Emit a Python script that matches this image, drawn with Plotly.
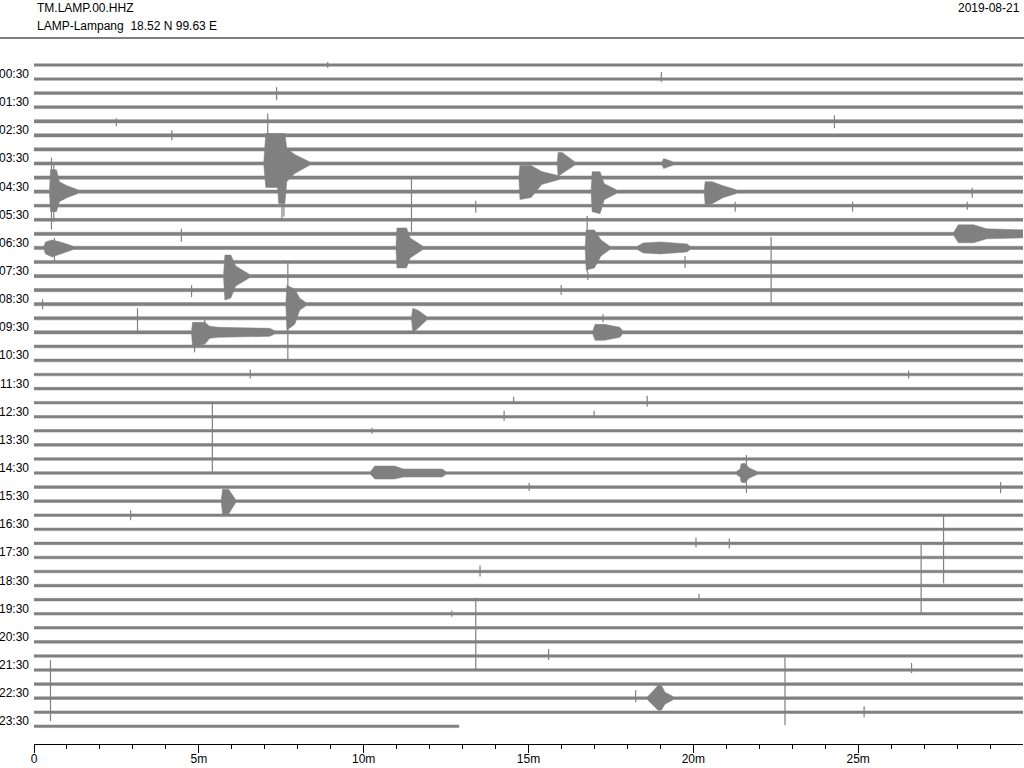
import plotly.graph_objects as go

# ---------------- data ----------------
STATION = "TM.LAMP.00.HHZ"
SITE = "LAMP-Lampang\u00a0 18.52 N 99.63 E"
DATE = "2019-08-21"

N_LINES = 48                      # 30-minute lines, 00:00 ... 23:30
LINE_MINUTES = 30
LAST_LINE_END = 12.89             # minutes recorded on the last line
HOUR_LABELS = ["00:30", "01:30", "02:30", "03:30", "04:30", "05:30", "06:30", "07:30",
               "08:30", "09:30", "10:30", "11:30", "12:30", "13:30", "14:30", "15:30",
               "16:30", "17:30", "18:30", "19:30", "20:30", "21:30", "22:30", "23:30"]
X_TICKS = [0, 5, 10, 15, 20, 25]
X_TICK_TEXT = ["0", "5m", "10m", "15m", "20m", "25m"]
X_MINOR = [1, 2, 3, 4, 6, 7, 8, 9, 11, 12, 13, 14, 16, 17, 18, 19, 21, 22, 23, 24, 26, 27, 28, 29]

GAIN = 14.07   # amplitude units per line spacing

# background noise half-amplitude per line
NOISE = [1.2, 1.2, 1.4, 1.4, 1.6, 1.6, 1.6, 1.6, 1.6, 1.6, 1.4, 1.4,
         1.6, 1.6, 1.6, 1.6, 1.6, 1.6, 1.6, 1.6, 1.4, 1.4, 1.3, 1.3,
         1.3, 1.3, 1.3, 1.3, 1.3, 1.3, 1.3, 1.3, 1.3, 1.3, 1.3, 1.3,
         1.3, 1.3, 1.3, 1.3, 1.3, 1.3, 1.3, 1.3, 1.3, 1.3, 1.3, 1.3]

# events: envelope key points (minute, amplitude above, amplitude below)
EVENT_LINE = [9, 13, 7, 15, 17, 18, 19, 13, 7, 8, 7, 9, 9, 13, 13, 12, 19, 29, 29, 31, 45]
EVENT_T = [
    [0.47, 0.50, 0.68, 0.77, 1.00, 1.35],
    [0.30, 0.35, 0.55, 0.80, 1.20],
    [6.97, 7.03, 7.39, 7.42, 7.61, 7.67, 7.91, 8.37],
    [5.75, 5.79, 5.97, 6.12, 6.54],
    [7.64, 7.67, 7.91, 8.06, 8.25],
    [11.45, 11.49, 11.65, 11.92],
    [4.78, 4.81, 5.18, 5.33, 5.60, 7.15, 7.30],
    [10.98, 11.01, 11.30, 11.41, 11.80],
    [15.87, 15.90, 16.02, 16.41],
    [14.71, 14.74, 15.08, 15.40, 15.96],
    [19.05, 19.10, 19.40],
    [16.90, 16.93, 17.17, 17.30, 17.68],
    [20.33, 20.36, 20.57, 20.90, 21.33],
    [16.72, 16.75, 17.00, 17.20, 17.47],
    [18.30, 18.48, 19.00, 19.81, 19.90],
    [27.90, 28.04, 28.50, 28.90, 30.00],
    [16.95, 17.02, 17.30, 17.77, 17.85],
    [10.20, 10.34, 10.94, 11.20, 12.38, 12.50],
    [21.30, 21.42, 21.45, 21.55, 21.70, 21.95],
    [5.68, 5.72, 5.90, 6.12],
    [18.60, 18.69, 18.93, 19.03, 19.14, 19.40],
]
EVENT_UP = [
    [0, 22, 22, 10, 6, 0],
    [0, 6, 8, 6, 0],
    [0, 30, 30, 30, 30, 15, 9, 0],
    [0, 21, 21, 10, 0],
    [0, 19, 15, 6, 0],
    [0, 10, 8, 0],
    [0, 10, 10, 6, 5, 4, 0],
    [0, 20, 20, 10, 0],
    [0, 11, 11, 0],
    [0, 12, 12, 6, 0],
    [0, 5, 0],
    [0, 20, 20, 8, 0],
    [0, 10, 10, 6, 0],
    [0, 18, 18, 8, 0],
    [0, 5, 6, 4, 0],
    [0, 9, 9, 5, 4],
    [0, 8, 8, 5, 0],
    [0, 7, 7, 4, 4, 0],
    [0, 4, 9, 10, 5, 0],
    [0, 12, 12, 0],
    [0, 4, 13, 13, 6, 0],
]
EVENT_DOWN = [
    [0, 20, 20, 10, 6, 0],
    [0, 6, 9, 6, 0],
    [0, 24, 24, 40, 40, 18, 10, 0],
    [0, 24, 22, 10, 0],
    [0, 26, 20, 6, 0],
    [0, 14, 10, 0],
    [0, 14, 12, 6, 5, 4, 0],
    [0, 20, 20, 10, 0],
    [0, 13, 10, 0],
    [0, 22, 20, 7, 0],
    [0, 5, 0],
    [0, 20, 22, 8, 0],
    [0, 13, 12, 6, 0],
    [0, 22, 20, 8, 0],
    [0, 5, 6, 4, 0],
    [0, 9, 9, 5, 4],
    [0, 8, 8, 5, 0],
    [0, 6, 6, 4, 4, 0],
    [0, 4, 9, 10, 5, 0],
    [0, 13, 13, 0],
    [0, 4, 12, 12, 6, 0],
]

# single spikes: line, minute, amplitude above, amplitude below
SPIKE_LINE = [9, 9, 13, 7, 7, 7, 17, 18, 19, 19, 10, 13, 14, 15, 16, 10, 16, 17, 22, 26,
              24, 24, 25, 25, 29, 30, 32, 35, 37, 34, 34, 36, 38, 40, 39, 42, 43, 44, 45, 45,
              46, 1, 2, 4, 4, 5, 10, 10, 9, 12, 0, 22, 26, 30, 10, 18, 15]
SPIKE_T = [0.53, 0.60, 0.62, 7.09, 7.52, 7.58, 7.70, 3.14, 4.87, 5.18, 11.45, 16.78, 19.75, 22.36,
           15.99, 13.40, 4.78, 0.26, 6.56, 5.41, 14.55, 18.60, 14.26, 16.99, 21.61, 29.32, 2.93,
           27.59, 26.91, 20.08, 21.09, 13.53, 20.17, 13.40, 12.67, 15.61, 26.62, 0.50, 22.78,
           18.25, 25.18, 19.03, 7.36, 2.50, 24.28, 4.18, 21.27, 24.83, 28.46, 4.47, 8.91, 26.53,
           10.25, 15.02, 28.31, 17.26, 16.80]
SPIKE_UP = [34, 28, 10, 50, 20, 20, 42, 10, 8, 14, 28, 32, 6, 39, 5, 5, 5, 5, 5, 29,
            6, 7, 6, 6, 18, 5, 5, 42, 41, 6, 5, 6, 6, 30, 3, 7, 7, 24, 41, 8,
            6, 7, 6, 3, 6, 5, 4, 4, 4, 5, 3, 4, 3, 4, 4, 4, 4]
SPIKE_DOWN = [38, 30, 14, 20, 56, 53, 56, 14, 20, 8, 26, 24, 6, 29, 5, 7, 7, 5, 4, 41,
              1, 4, 4, 1, 20, 6, 5, 26, 29, 4, 5, 5, 1, 42, 3, 4, 3, 37, 27, 4,
              5, 3, 7, 5, 7, 5, 6, 6, 6, 8, 3, 4, 3, 4, 4, 4, 4]

# ---------------- layout constants ----------------
COLOR = "rgb(128,128,128)"
FONT = "Liberation Sans, Arial, sans-serif"
W, H = 1024, 768
M_L, M_R, M_T, M_B = 34, 1, 50, 24
FIRST_LINE_PX = 65.0
LINE_PX = 14.07
PLOT_H = H - M_T - M_B
PLOT_W = W - M_L - M_R
y_top = (FIRST_LINE_PX - M_T) / LINE_PX
y_bot = -(H - M_B - FIRST_LINE_PX) / LINE_PX

fig = go.Figure()

for i in range(N_LINES):
    n = NOISE[i]
    end = LINE_MINUTES if i < N_LINES - 1 else LAST_LINE_END
    pts = [(0.0, n, n)]
    evs = sorted([k for k in range(len(EVENT_LINE)) if EVENT_LINE[k] == i],
                 key=lambda k: EVENT_T[k][0])
    for k in evs:
        for t, u, d in zip(EVENT_T[k], EVENT_UP[k], EVENT_DOWN[k]):
            pts.append((t, max(u, n), max(d, n)))
    pts.append((end, n, n))
    xs = [p[0] for p in pts] + [p[0] for p in reversed(pts)] + [pts[0][0]]
    ys = ([-i + p[1] / GAIN for p in pts] + [-i - p[2] / GAIN for p in reversed(pts)]
          + [-i + pts[0][1] / GAIN])
    fig.add_trace(go.Scatter(x=xs, y=ys, mode="lines", fill="toself",
                             fillcolor=COLOR, line=dict(color=COLOR, width=0.5),
                             hoverinfo="skip", showlegend=False))

sx, sy = [], []
for ln, t, u, d in zip(SPIKE_LINE, SPIKE_T, SPIKE_UP, SPIKE_DOWN):
    sx += [t, t, None]
    sy += [-ln + u / GAIN, -ln - d / GAIN, None]
fig.add_trace(go.Scatter(x=sx, y=sy, mode="lines", line=dict(color=COLOR, width=1.2),
                         hoverinfo="skip", showlegend=False))

annotations = []
for k, lab in enumerate(HOUR_LABELS):
    annotations.append(dict(x=0, xref="paper", y=-(2 * k + 1), yref="y", text=lab,
                            showarrow=False, xanchor="right", yanchor="middle",
                            xshift=-3, yshift=5, font=dict(size=12, color="black", family=FONT)))


def py(px):
    return 1 + (M_T - px) / PLOT_H


def pxx(px):
    return (px - M_L) / PLOT_W


annotations += [
    dict(x=pxx(35), y=py(8), xref="paper", yref="paper", text=STATION, showarrow=False,
         xanchor="left", yanchor="middle", font=dict(size=12, color="black", family=FONT)),
    dict(x=pxx(35), y=py(26), xref="paper", yref="paper", text=SITE, showarrow=False,
         xanchor="left", yanchor="middle", font=dict(size=12, color="black", family=FONT)),
    dict(x=pxx(1022), y=py(8), xref="paper", yref="paper", text=DATE, showarrow=False,
         xanchor="right", yanchor="middle", font=dict(size=12, color="black", family=FONT)),
]

fig.update_layout(
    width=W, height=H, template="none",
    paper_bgcolor="white", plot_bgcolor="white",
    margin=dict(l=M_L, r=M_R, t=M_T, b=M_B, pad=0, autoexpand=False),
    showlegend=False,
    annotations=annotations,
    shapes=[dict(type="line", xref="paper", yref="paper", x0=pxx(0), x1=pxx(W),
                 y0=py(38), y1=py(38), line=dict(color="black", width=1))],
    xaxis=dict(range=[0, LINE_MINUTES], showgrid=False, zeroline=False, showline=True,
               linecolor="black", linewidth=1, ticks="outside", ticklen=8, tickwidth=1,
               tickcolor="black", tickvals=X_TICKS, ticktext=X_TICK_TEXT,
               ticklabelstandoff=-4,
               tickfont=dict(size=12, color="black", family=FONT),
               minor=dict(tickvals=X_MINOR, ticks="outside", ticklen=4, tickwidth=1,
                          tickcolor="black", showgrid=False),
               fixedrange=True),
    yaxis=dict(range=[y_bot, y_top], visible=False, fixedrange=True),
)

fig.write_html(
    "out.html",
    config={"displayModeBar": False, "staticPlot": True},
    post_script="document.documentElement.style.margin='0';document.body.style.margin='0';"
                "document.body.style.padding='0';document.body.style.overflow='hidden';",
)
